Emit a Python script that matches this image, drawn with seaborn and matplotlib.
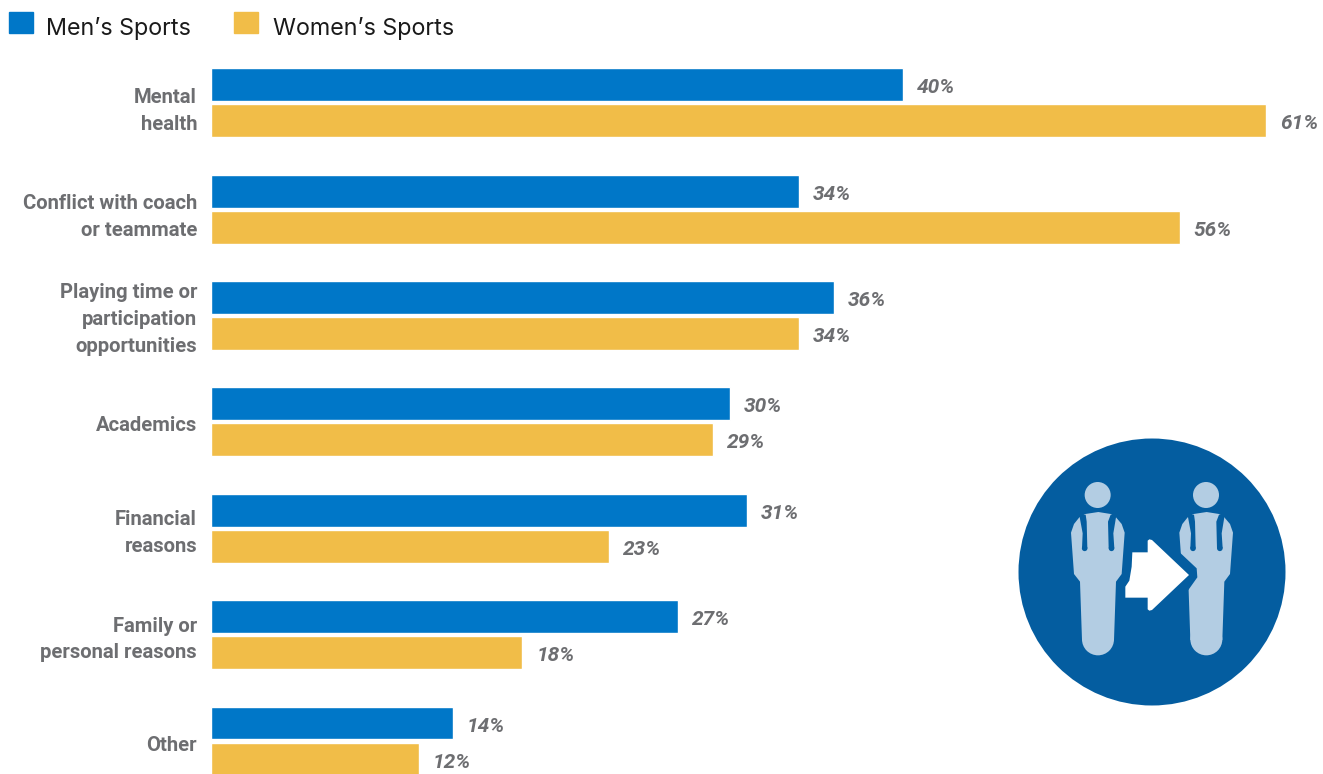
import numpy as np
import pandas as pd
import matplotlib
matplotlib.use('Agg')
import matplotlib.pyplot as plt
import seaborn as sns
from matplotlib.patches import Circle, Polygon, Patch
from matplotlib.transforms import ScaledTranslation

# Data

categories = ['Mental\nhealth', 'Conflict with coach\nor teammate',
              'Playing time or\nparticipation\nopportunities', 'Academics',
              'Financial\nreasons', 'Family or\npersonal reasons', 'Other']
mens = [40, 34, 36, 30, 31, 27, 14]
womens = [61, 56, 34, 29, 23, 18, 12]
series = ["Men\u2019s Sports", "Women\u2019s Sports"]
colors = ['#0077c8', '#f1bd48']
gray = '#6d6e71'

W, H = 1323, 774
sns.set_theme(style='white')

df = pd.DataFrame({'category': categories * 2,
                   'series': [series[0]] * 7 + [series[1]] * 7,
                   'value': mens + womens})

fig = plt.figure(figsize=(W / 100, H / 100), dpi=100)
ax = fig.add_axes([211 / W, 0, 1 - 211 / W, 1 - 49.5 / H])
sns.barplot(data=df, y='category', x='value', hue='series', palette=colors, ax=ax,
            width=0.677, gap=0.085, saturation=1, legend=False, orient='h')
ax.set_xlim(0, (W - 211) / 17.3)
ax.set_ylim(6.31, -0.5)
ax.set(xlabel='', ylabel='')
ax.set_xticks([])
sns.despine(ax=ax, left=True, bottom=True)
ax.tick_params(axis='y', length=0, pad=10)
# labels sit a little off the group centre in the original, in inches
label_dy = [-0.025, -0.02, 0.02, -0.02, 0.01, 0.01, -0.02]
for lab, dy in zip(ax.get_yticklabels(), label_dy):
    lab.set_fontfamily('Roboto')
    lab.set_fontweight('bold')
    lab.set_fontsize(14.6)
    lab.set_color(gray)
    lab.set_linespacing(1.52)
    lab.set_ha('right')
    lab.set_multialignment('right')
    lab.set_transform(lab.get_transform() + ScaledTranslation(0, dy, fig.dpi_scale_trans))

for cont in ax.containers:
    labels = ax.bar_label(cont, fmt='%d%%', padding=10, fontsize=15, color=gray,
                          fontfamily='Roboto', fontweight='bold', fontstyle='italic')
    for t in labels:
        t.xyann = (t.xyann[0], t.xyann[1] - 2.2)

handles = [Patch(color=c) for c in colors]
leg = fig.legend(handles, series, ncol=2, frameon=False, loc='upper left',
                 bbox_to_anchor=(-2 / W, 1 - 6 / H), borderaxespad=0, borderpad=0.45,
                 prop={'family': 'Inter', 'size': 16.8}, handlelength=1.03, handleheight=1.03,
                 handletextpad=0.58, columnspacing=1.89, labelcolor='#1a1a1a')
# squares sit a bit higher than the text baseline would put them
for i, p in enumerate(leg.get_patches()):
    p.set_y(p.get_y() + 3.4)
    if i == 1:
        p.set_x(p.get_x() - 1.0)

# icon, traced in the coordinates of a 3x crop whose corner is (1000, 420)
icon = fig.add_axes([0, 0, 1, 1], zorder=5)
icon.set_xlim(0, W)
icon.set_ylim(H, 0)
icon.axis('off')
icon.patch.set_alpha(0)
blue = '#045da0'
pale = '#b3cde3'


def px(pts):
    return [(1000 + x / 3, 420 + y / 3) for x, y in pts]


icon.add_patch(Circle((1152, 572), 133.5, color=blue, lw=0))


def person(dx):
    body = [(238, 292), (222, 312), (213, 338), (222, 462), (240, 485), (246, 660),
            (342, 660), (348, 485), (365, 462), (374, 338), (365, 312), (348, 292),
            (332, 282), (295, 276), (256, 282)]
    icon.add_patch(Polygon(px([(x + dx, y) for x, y in body]), color=pale, lw=0))
    icon.add_patch(Circle(px([(294 + dx, 658)])[0], 16, color=pale, lw=0))
    icon.add_patch(Circle(px([(293 + dx, 225)])[0], 13, color=pale, lw=0))
    left = [(238, 286), (257, 284), (260, 305), (262, 385), (246, 385), (248, 340)]
    right = [(332, 284), (349, 286), (340, 340), (343, 385), (326, 385), (324, 305)]
    for slot, cx in ((left, 254), (right, 334.5)):
        icon.add_patch(Polygon(px([(x + dx, y) for x, y in slot]), color=blue, lw=0))
        icon.add_patch(Circle(px([(cx + dx, 385)])[0], 2.8, color=blue, lw=0))


person(0)
person(325)
icon.add_patch(Polygon(px([(540, 398), (590, 445), (592, 472), (565, 510), (500, 560),
                           (500, 380)]), color=blue, lw=0))
icon.add_patch(Polygon(px([(397, 397), (443, 397), (443, 362), (448, 358), (456, 360),
                           (567, 465), (456, 570), (448, 572), (443, 568), (443, 533),
                           (376, 533), (376, 500), (388, 482), (395, 440)]),
                       color='white', lw=0))

fig.savefig('out.png', dpi=100)
